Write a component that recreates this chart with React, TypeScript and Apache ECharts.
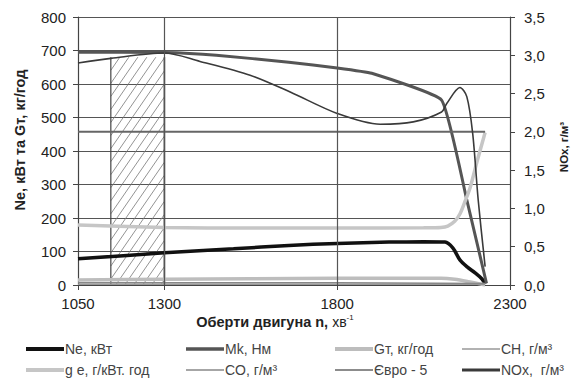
import React, { useEffect, useRef } from "react";
import * as echarts from "echarts";

// ---- data ----
const xTicks = [1050, 1300, 1800, 2300];

const neRpm = [1050, 1300, 1500, 1660, 1800, 1950, 2050, 2112, 2135, 2155, 2176, 2199, 2219, 2228];
const neVal = [78, 96, 108, 118, 124, 128, 129, 128, 110, 75, 54, 36, 18, 3];

const mkRpm = [1050, 1300, 1450, 1660, 1800, 1900, 2102, 2175, 2232];
const mkVal = [695, 694, 686, 665, 648, 632, 552, 254, 5];

const gtRpm = [1050, 1300, 1800, 2100, 2140, 2180, 2228];
const gtVal = [15, 17, 20, 20, 17, 10, 0];

const chRpm = [1050, 1800, 2228];
const chVal = [0.01, 0.01, 0.01];

const geRpm = [1050, 1300, 1550, 1800, 2050, 2100, 2120, 2140, 2155, 2170, 2185, 2205, 2228];
const geVal = [179, 172, 170, 170, 171, 172, 176, 190, 212, 250, 292, 370, 455];

const coRpm = [1050, 1800, 2228];
const coVal = [0.03, 0.03, 0.02];

const euroRpm = [1050, 2228];
const euroVal = [2.0, 2.0];

const noxRpm = [1050, 1145, 1300, 1403, 1548, 1664, 1800, 1924, 2020, 2102, 2117, 2155, 2175, 2192, 2208, 2228];
const noxVal = [2.9, 2.96, 3.03, 2.92, 2.74, 2.52, 2.24, 2.1, 2.13, 2.26, 2.37, 2.58, 2.46, 1.98, 1.11, 0.24];

const hatchRpm = [1145, 1300];
const hatchTop = 680;

const vGrid = [1300, 1800];

const pairs = (xs: number[], ys: number[]) => xs.map((x, i) => [x, ys[i]]);

const FONT = "Liberation Sans, Arial, sans-serif";

// legend layout: [name, left, top, icon thickness]
const legendItems: [string, number, number, number][] = [
  ["Ne, кВт", 21, 337, 4],
  ["Mk, Нм", 181, 337, 3.5],
  ["Gт, кг/год", 330, 337, 4],
  ["CH, г/м³", 457, 337, 1.5],
  ["g e, г/кВт. год", 21, 358, 4],
  ["CO, г/м³", 181, 358, 1.5],
  ["Євро - 5", 330, 358, 1.5],
  ["NOx,  г/м³", 457, 358, 3],
];

export default function App() {
  const ref = useRef<HTMLDivElement>(null);
  useEffect(() => {
    const chart = echarts.init(ref.current!, null, { renderer: "svg" });
    const lineBase = (name: string, xs: number[], ys: number[], color: string, width: number, yAxisIndex: number, smooth: number | boolean) => ({
      name,
      type: "line",
      yAxisIndex,
      data: pairs(xs, ys),
      symbol: "none",
      smooth,
      lineStyle: { color, width },
      itemStyle: { color },
      z: 3,
    });
    const option: any = {
      animation: false,
      textStyle: { fontFamily: FONT },
      grid: { left: 78, right: 62, top: 17, bottom: 93 },
      graphic: [
        {
          type: "text",
          x: 20,
          y: 140,
          rotation: Math.PI / 2,
          style: {
            text: "Ne, кВт та Gт, кг/год",
            fontFamily: FONT,
            fontSize: 14.5,
            fontWeight: "bold",
            fill: "#222",
            textAlign: "center",
            textVerticalAlign: "middle",
          },
        },
        {
          type: "text",
          x: 564,
          y: 147,
          rotation: Math.PI / 2,
          style: {
            text: "NOx, г/м³",
            fontFamily: FONT,
            fontSize: 11.5,
            fontWeight: "bold",
            fill: "#222",
            textAlign: "center",
            textVerticalAlign: "middle",
          },
        },
        {
          type: "text",
          x: 275,
          y: 322,
          style: {
            text: "{b|Оберти двигуна n, }{n|хв}{s|-1}",
            textAlign: "center",
            textVerticalAlign: "middle",
            rich: {
              b: { fontFamily: FONT, fontSize: 14.5, fontWeight: "bold", fill: "#222", color: "#222" },
              n: { fontFamily: FONT, fontSize: 14, fill: "#222", color: "#222" },
              s: { fontFamily: FONT, fontSize: 8, fill: "#222", color: "#222", verticalAlign: "top", padding: [0, 0, 9, 0] },
            },
          },
        },
      ],
      legend: legendItems.map(([name, left, top, th]) => ({
        data: [name],
        left,
        top,
        icon: "rect",
        itemWidth: 38,
        itemHeight: th,
        textStyle: { fontFamily: FONT, fontSize: 14, color: "#444", padding: [0, 0, 0, -4] },
      })),
      xAxis: {
        type: "value",
        min: 1050,
        max: 2300,
        axisLine: { lineStyle: { color: "#444", width: 1.2 } },
        axisTick: { show: true, length: 5, customValues: xTicks, lineStyle: { color: "#444" } },
        axisLabel: {
          customValues: xTicks,
          fontSize: 15,
          color: "#222",
          margin: 11,
          fontFamily: FONT,
          formatter: (v: number) => String(v),
        },
        splitLine: { show: false },
      },
      yAxis: [
        {
          type: "value",
          min: 0,
          max: 800,
          interval: 100,
          axisLine: { show: true, lineStyle: { color: "#444", width: 1.2 } },
          axisTick: { show: true, length: 5, lineStyle: { color: "#444" } },
          axisLabel: { fontSize: 15, color: "#222", margin: 12, fontFamily: FONT },
          splitLine: { show: true, lineStyle: { color: "#555", width: 1.2 } },
        },
        {
          type: "value",
          min: 0,
          max: 3.5,
          interval: 0.5,
          position: "right",
          axisLine: { show: true, lineStyle: { color: "#444", width: 1.2 } },
          axisTick: { show: true, length: 5, lineStyle: { color: "#444" } },
          axisLabel: {
            fontSize: 15,
            color: "#222",
            margin: 14,
            fontFamily: FONT,
            formatter: (v: number) => v.toFixed(1).replace(".", ","),
          },
          splitLine: { show: false },
        },
      ],
      series: [
        {
          type: "custom",
          name: "hatch",
          yAxisIndex: 0,
          z: 1,
          silent: true,
          encode: { x: [0, 1], y: [2, 3] },
          data: [[hatchRpm[0], hatchRpm[1], 0, hatchTop]],
          renderItem: (params: any, api: any) => {
            const pA = api.coord([api.value(0), api.value(2)]);
            const pB = api.coord([api.value(1), api.value(3)]);
            const left = pA[0], right = pB[0], bottom = pA[1], top = pB[1];
            const h = bottom - top;
            const slope = 1.45;
            const spacing = 9;
            const children: any[] = [];
            for (let c = left - h / slope; c < right; c += spacing) {
              let sx = c, sy = bottom;
              if (c < left) { sx = left; sy = bottom - (left - c) * slope; }
              let ex = c + h / slope, ey = top;
              if (ex > right) { ex = right; ey = bottom - (right - c) * slope; }
              if (sx > right || ex < left || sy < top) continue;
              children.push({
                type: "line",
                shape: { x1: sx, y1: sy, x2: ex, y2: ey },
                style: { stroke: "#777", lineWidth: 0.8 },
              });
            }
            children.push({
              type: "line",
              shape: { x1: left, y1: top, x2: left, y2: bottom },
              style: { stroke: "#444", lineWidth: 1.2 },
            });
            children.push({
              type: "line",
              shape: { x1: right, y1: top, x2: right, y2: bottom },
              style: { stroke: "#444", lineWidth: 1.6 },
            });
            return { type: "group", children };
          },
        },
        lineBase("Ne, кВт", neRpm, neVal, "#111", 3.5, 0, 0.3),
        lineBase("Mk, Нм", mkRpm, mkVal, "#555", 3, 0, 0.12),
        lineBase("Gт, кг/год", gtRpm, gtVal, "#bdbdbd", 3.5, 0, 0.3),
        lineBase("CH, г/м³", chRpm, chVal, "#999", 1.5, 1, false),
        lineBase("g e, г/кВт. год", geRpm, geVal, "#c6c6c6", 3.5, 0, 0.3),
        lineBase("CO, г/м³", coRpm, coVal, "#888", 1.5, 1, false),
        {
          ...lineBase("Євро - 5", euroRpm, euroVal, "#666", 2, 1, false),
          markLine: {
            silent: true,
            symbol: "none",
            label: { show: false },
            lineStyle: { color: "#555", width: 1.2, type: "solid" },
            data: vGrid.map((v) => ({ xAxis: v })),
          },
        },
        lineBase("NOx,  г/м³", noxRpm, noxVal, "#3a3a3a", 1.6, 1, 0.3),
      ],
    };
    chart.setOption(option);
    return () => chart.dispose();
  }, []);
  return <div ref={ref} style={{ width: 572, height: 378, position: "absolute", left: 0, top: 0, background: "#fff" }} />;
}
